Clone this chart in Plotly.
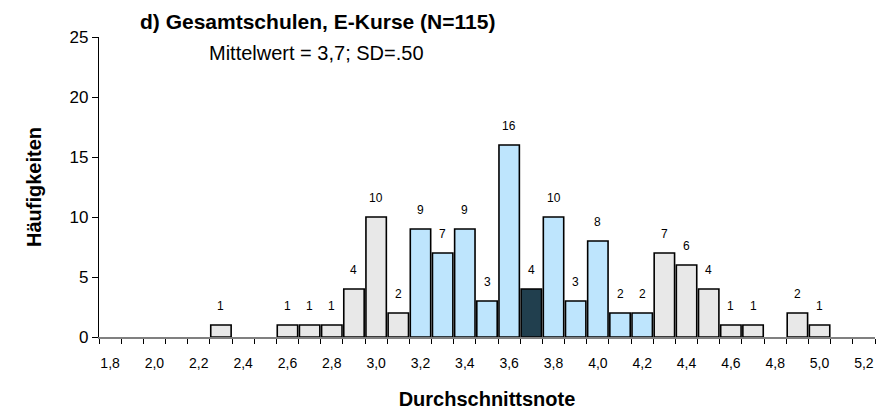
import plotly.graph_objects as go

# Daten: Durchschnittsnote -> Häufigkeit
noten = [2.3, 2.6, 2.7, 2.8, 2.9, 3.0, 3.1, 3.2, 3.3, 3.4, 3.5, 3.6, 3.7,
         3.8, 3.9, 4.0, 4.1, 4.2, 4.3, 4.4, 4.5, 4.6, 4.7, 4.9, 5.0]
haeufigkeit = [1, 1, 1, 1, 4, 10, 2, 9, 7, 9, 3, 16, 4,
               10, 3, 8, 2, 2, 7, 6, 4, 1, 1, 2, 1]
# Bereich: aussen (> 1 SD), innen (+/- 1 SD), mittel (Mittelwert)
bereich = ["aussen"] * 7 + ["innen"] * 5 + ["mittel"] + ["innen"] * 5 + ["aussen"] * 7

farben = {"aussen": "#E8E8E8", "innen": "#BEE5FD", "mittel": "#213F4E"}
tick_labels = ["1,8", "2,0", "2,2", "2,4", "2,6", "2,8", "3,0", "3,2", "3,4",
               "3,6", "3,8", "4,0", "4,2", "4,4", "4,6", "4,8", "5,0", "5,2"]
tick_werte = [1.8 + 0.2 * i for i in range(len(tick_labels))]

font = "Liberation Sans, Arial, sans-serif"

fig = go.Figure(
    go.Bar(
        x=noten,
        y=haeufigkeit,
        width=0.092,
        marker=dict(color=[farben[b] for b in bereich],
                    line=dict(color="black", width=1.6)),
        hoverinfo="x+y",
    )
)

# Werte über den Balken
for x, y in zip(noten, haeufigkeit):
    fig.add_annotation(x=x, y=y, text=str(y), showarrow=False,
                       yanchor="bottom", yshift=10,
                       font=dict(size=12, color="black", family=font))

# Titel und Untertitel (Position relativ zur Zeichenfläche)
fig.add_annotation(x=(317 - 99) / 776, y=(337 - 22) / 300, xref="paper", yref="paper",
                   xanchor="center", yanchor="middle",
                   showarrow=False, text="<b>d) Gesamtschulen, E-Kurse (N=115)</b>",
                   font=dict(size=21, color="black", family=font))
fig.add_annotation(x=(316 - 99) / 776, y=(337 - 53) / 300, xref="paper", yref="paper",
                   xanchor="center", yanchor="middle",
                   showarrow=False, text="Mittelwert = 3,7; SD=.50",
                   font=dict(size=20, color="black", family=font))

fig.update_layout(
    width=890, height=412,
    margin=dict(l=91, r=23, t=29, b=83),
    plot_bgcolor="white", paper_bgcolor="white",
    showlegend=False,
    font=dict(family=font, color="black"),
    xaxis=dict(
        range=[1.75, 5.25],
        tickvals=tick_werte, ticktext=tick_labels,
        ticks="outside", ticklen=12, tickcolor="rgba(0,0,0,0)",
        tickfont=dict(size=14),
        minor=dict(ticks="outside", tick0=1.75, dtick=0.1, ticklen=5,
                   tickcolor="black", tickwidth=1),
        showline=True, linecolor="#808080", linewidth=1.5,
        showgrid=False, zeroline=False, automargin=False,
        title=dict(text="<b>Durchschnittsnote</b>", font=dict(size=20), standoff=22),
    ),
    yaxis=dict(
        range=[0, 25], dtick=5,
        ticks="outside", ticklen=6, tickcolor="black",
        tickfont=dict(size=17),
        showline=True, linecolor="black", linewidth=1.2,
        showgrid=False, zeroline=False, automargin=False,
        title=dict(text="<b>Häufigkeiten</b>", font=dict(size=20), standoff=22),
    ),
)

fig.write_html("out.html")
